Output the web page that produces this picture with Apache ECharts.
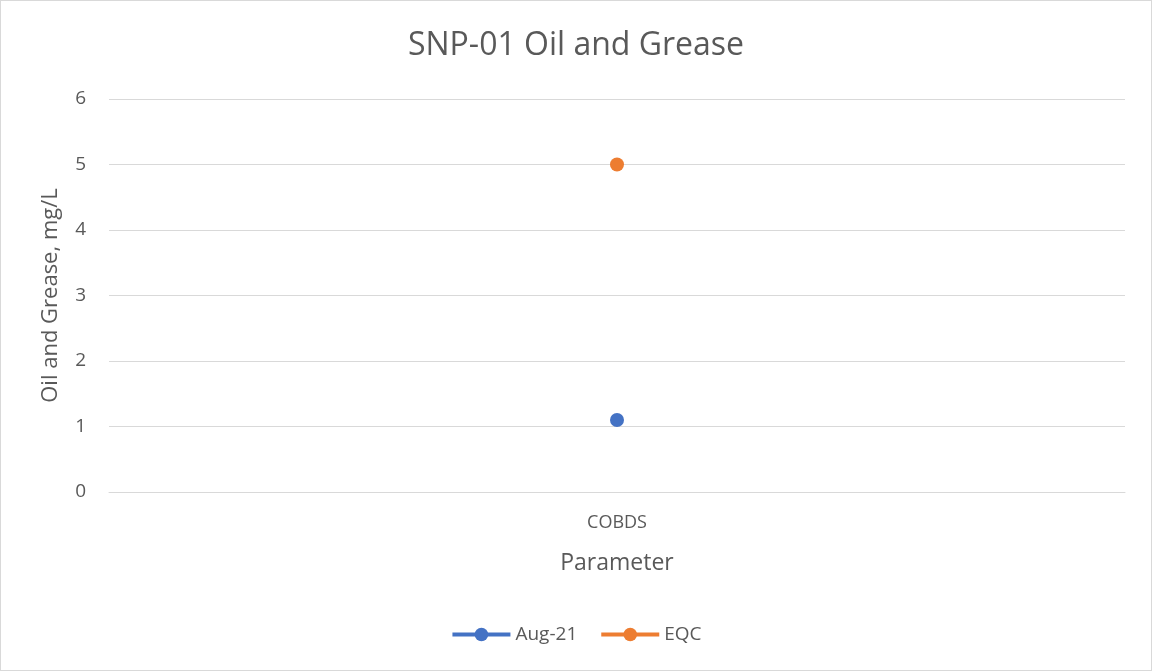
<!DOCTYPE html>
<html>
<head>
    <meta charset="utf-8">
    <title>SNP-01 Oil and Grease</title>
    <script src="https://cdn.jsdelivr.net/npm/echarts@6/dist/echarts.min.js"></script>
    <style>
        html, body { margin: 0; padding: 0; background: #fff; }
        #main { width: 1150px; height: 669px; border: 1px solid #d9d9d9; }
    </style>
</head>
<body>
    <div id="main"></div>
    <script type="text/javascript">
        // data
        var categories = ['COBDS'];
        var aug21 = [1.1];
        var eqc = [5];
        var seriesNames = ['Aug-21', 'EQC'];

        var textColor = '#595959';
        var font = 'Open Sans';

        var myChart = echarts.init(document.getElementById('main'));

        var option = {
            animation: false,
            textStyle: { fontFamily: font },
            title: {
                text: 'SNP-01 Oil and Grease',
                left: 'center',
                top: 24,
                textStyle: { color: textColor, fontSize: 32, fontWeight: 'normal', fontFamily: font }
            },
            legend: {
                data: seriesNames,
                bottom: 21,
                left: 'center',
                itemWidth: 58,
                itemHeight: 17,
                itemGap: 22,
                lineStyle: { width: 4 },
                textStyle: { color: textColor, fontSize: 19, fontFamily: font }
            },
            grid: {
                left: 108,
                right: 26,
                top: 98,
                bottom: 178
            },
            xAxis: {
                type: 'category',
                data: categories,
                name: 'Parameter',
                nameLocation: 'middle',
                nameGap: 60,
                nameTextStyle: { color: textColor, fontSize: 23, fontFamily: font },
                axisLine: { lineStyle: { color: '#d9d9d9' } },
                axisTick: { show: false },
                axisLabel: { color: textColor, fontSize: 18, margin: 22, fontFamily: font }
            },
            yAxis: {
                type: 'value',
                min: 0,
                max: 6,
                interval: 1,
                name: 'Oil and Grease, mg/L',
                nameLocation: 'middle',
                nameGap: 47,
                nameTextStyle: { color: textColor, fontSize: 22, fontFamily: font },
                axisLine: { show: false },
                axisTick: { show: false },
                axisLabel: { color: textColor, fontSize: 19, margin: 23, fontFamily: font },
                splitLine: { lineStyle: { color: '#d9d9d9', width: 1 } }
            },
            series: [
                {
                    name: seriesNames[0],
                    type: 'line',
                    data: aug21,
                    symbol: 'circle',
                    symbolSize: 14,
                    itemStyle: { color: '#4472c4' },
                    lineStyle: { color: '#4472c4', width: 4 }
                },
                {
                    name: seriesNames[1],
                    type: 'line',
                    data: eqc,
                    symbol: 'circle',
                    symbolSize: 14,
                    itemStyle: { color: '#ed7d31' },
                    lineStyle: { color: '#ed7d31', width: 4 }
                }
            ]
        };

        myChart.setOption(option);
    </script>
</body>
</html>
